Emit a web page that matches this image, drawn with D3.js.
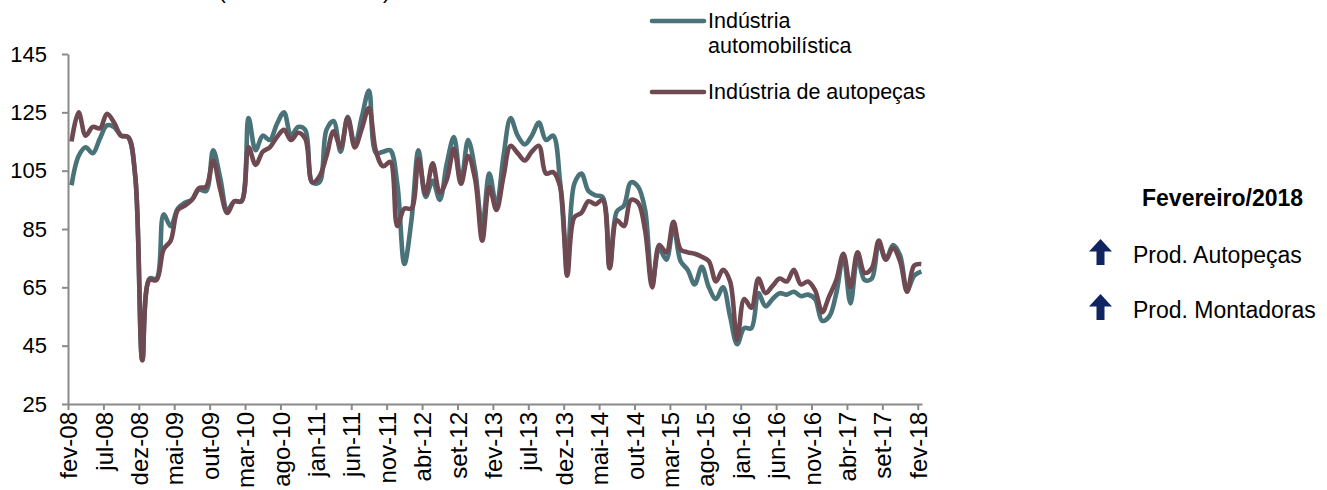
<!DOCTYPE html>
<html>
<head>
<meta charset="utf-8">
<script src="https://cdn.jsdelivr.net/npm/d3@7"></script>
<style>
body { margin: 0; background: #fff; }
svg { display: block; font-family: "Liberation Sans", Arial, sans-serif; }
</style>
</head>
<body>
<div id="chart"></div>
<script>
// monthly index, fev-08 .. fev-18 (121 months)
var automobilistica = [
    100, 110, 113, 111, 116, 120.5, 120, 117, 116.5, 103,
    40, 68, 68, 90, 86, 92, 94, 95, 98.5, 98,
    112, 102.5, 91.5, 94.5, 94.5, 123, 112, 117, 115.5, 121,
    125, 117, 120, 119, 101, 101, 119, 122, 111.5, 123.5,
    114, 123.5, 132.5, 111, 111.5, 112, 100.5, 73, 88, 112,
    96, 101.5, 95, 107.5, 116.5, 101, 115.5, 105, 86, 104,
    93, 110, 123, 117, 114, 117, 121.5, 115.5, 117, 101,
    74, 100.5, 104, 98, 96.5, 96, 72, 91, 93, 101,
    99.5, 91.5, 66.5, 78, 74.5, 86, 74, 71, 66, 72,
    65, 61, 65, 55, 45.5, 51, 51, 63, 58.5, 61,
    63, 62.5, 63.5, 62, 62.5, 61, 53.5, 55, 63, 75.5,
    59.5, 75, 67.5, 68, 80, 74.5, 79.5, 76, 64, 69,
    70.5
];
var autopecas = [
    115, 125, 117, 120, 119.5, 124.5, 121.5, 117, 116.5, 103,
    40, 67.5, 67.5, 78, 81, 91.5, 93, 95, 99, 99.5,
    108.5, 98.5, 90.5, 94.5, 94.5, 113, 107, 111.5, 113, 116.5,
    119, 115.5, 118, 116, 101, 103, 110, 118.5, 113, 123,
    113, 119.5, 126.5, 111.5, 106.5, 108, 86, 92, 92, 109,
    97, 107.5, 97.5, 102, 112.5, 100.5, 110, 102, 81, 99.5,
    91.5, 103, 113.5, 111, 108.5, 111.5, 113.5, 104, 104.5, 99.5,
    69, 89, 90.5, 94.5, 93.5, 95, 71.5, 88, 86, 95,
    94, 84.5, 65, 79.5, 77, 87.5, 78, 77, 76.5, 75.5,
    74, 67, 71, 67, 47, 61, 58, 68, 63, 65.5,
    68, 67, 71, 66, 67, 64, 56.5, 62, 67.5, 76.5,
    65, 77, 70, 71.5, 81, 74.5, 78.5, 74, 63.5, 72.5,
    73
];
var tickLabels = ["fev-08", "jul-08", "dez-08", "mai-09", "out-09", "mar-10", "ago-10",
    "jan-11", "jun-11", "nov-11", "abr-12", "set-12", "fev-13", "jul-13", "dez-13",
    "mai-14", "out-14", "mar-15", "ago-15", "jan-16", "jun-16", "nov-16", "abr-17",
    "set-17", "fev-18"];
var yTicks = [25, 45, 65, 85, 105, 125, 145];
var seriesNames = ["Indústria automobilística", "Indústria de autopeças"];
var sideTitle = "Fevereiro/2018";
var sideItems = ["Prod. Autopeças", "Prod. Montadoras"];

var tealColor = "#4a7279";
var maroonColor = "#6e4951";
var axisColor = "#8a8a8a";

var svg = d3.select("#chart").append("svg")
    .attr("width", 1327)
    .attr("height", 490);

// months from the start of fev-08; each value sits mid-month
var x = d3.scaleLinear().domain([0, 120.6]).range([68, 922]);
var y = d3.scaleLinear().domain([25, 145]).range([404, 54]);

// title, cut off at the top edge as in the original
svg.append("text")
    .attr("x", 157)
    .attr("y", -1)
    .style("font-size", "21px")
    .style("fill", "#000")
    .text("Índice (base 2012 = 100)");

var yAxis = svg.append("g")
    .attr("transform", "translate(68,0)")
    .call(d3.axisLeft(y).tickValues(yTicks).tickSize(6).tickSizeOuter(0).tickPadding(15));

var xAxis = svg.append("g")
    .attr("transform", "translate(0,404)")
    .call(d3.axisBottom(x)
        .tickValues(d3.range(0, 121, 5))
        .tickFormat(function(d, i) { return tickLabels[i]; })
        .tickSize(6)
        .tickSizeOuter(0));

[xAxis, yAxis].forEach(function(a) {
    a.select(".domain").attr("stroke", axisColor).attr("stroke-width", 2);
    a.selectAll(".tick line").attr("stroke", axisColor).attr("stroke-width", 2);
    a.selectAll("text")
        .style("font-family", "'Liberation Sans', Arial, sans-serif")
        .style("font-size", "22px")
        .style("fill", "#000");
});

xAxis.selectAll("text")
    .attr("transform", "rotate(-90)")
    .attr("text-anchor", "end")
    .attr("x", -8)
    .attr("y", 0)
    .attr("dy", "0.36em")
    .style("font-size", "24px");

var line = d3.line()
    .x(function(d, i) { return x(i + 0.5); })
    .y(function(d) { return y(d); })
    .curve(d3.curveCatmullRom);

svg.append("path")
    .datum(automobilistica)
    .attr("fill", "none")
    .attr("stroke", tealColor)
    .attr("stroke-width", 4.6)
    .attr("stroke-linejoin", "round")
    .attr("d", line);

svg.append("path")
    .datum(autopecas)
    .attr("fill", "none")
    .attr("stroke", maroonColor)
    .attr("stroke-width", 4.6)
    .attr("stroke-linejoin", "round")
    .attr("d", line);

// legend
var legend = svg.append("g").style("font-size", "21.5px");
legend.append("line")
    .attr("x1", 652).attr("x2", 704).attr("y1", 21).attr("y2", 21)
    .attr("stroke", tealColor).attr("stroke-width", 4.6).attr("stroke-linecap", "round");
legend.append("text")
    .attr("x", 708).attr("y", 28)
    .selectAll("tspan")
    .data(["Indústria", "automobilística"])
    .enter().append("tspan")
    .attr("x", 708)
    .attr("dy", function(d, i) { return i === 0 ? 0 : 25; })
    .text(function(d) { return d; });
legend.append("line")
    .attr("x1", 652).attr("x2", 704).attr("y1", 92).attr("y2", 92)
    .attr("stroke", maroonColor).attr("stroke-width", 4.6).attr("stroke-linecap", "round");
legend.append("text")
    .attr("x", 708).attr("y", 99)
    .text(seriesNames[1]);

// side note
svg.append("text")
    .attr("x", 1142).attr("y", 206)
    .style("font-size", "23px")
    .style("font-weight", "bold")
    .text(sideTitle);

var items = svg.selectAll(".side-item")
    .data(sideItems)
    .enter().append("g")
    .attr("class", "side-item")
    .attr("transform", function(d, i) { return "translate(0," + (i * 55) + ")"; });

items.append("path")
    .attr("transform", "translate(1100.5,252)")
    .attr("d", "M0,-13 L11.5,-0.5 L4,-0.5 L4,13 L-4,13 L-4,-0.5 L-11.5,-0.5 Z")
    .attr("fill", "#0f2461");

items.append("text")
    .attr("x", 1133).attr("y", 263)
    .style("font-size", "23px")
    .text(function(d) { return d; });
</script>
</body>
</html>
